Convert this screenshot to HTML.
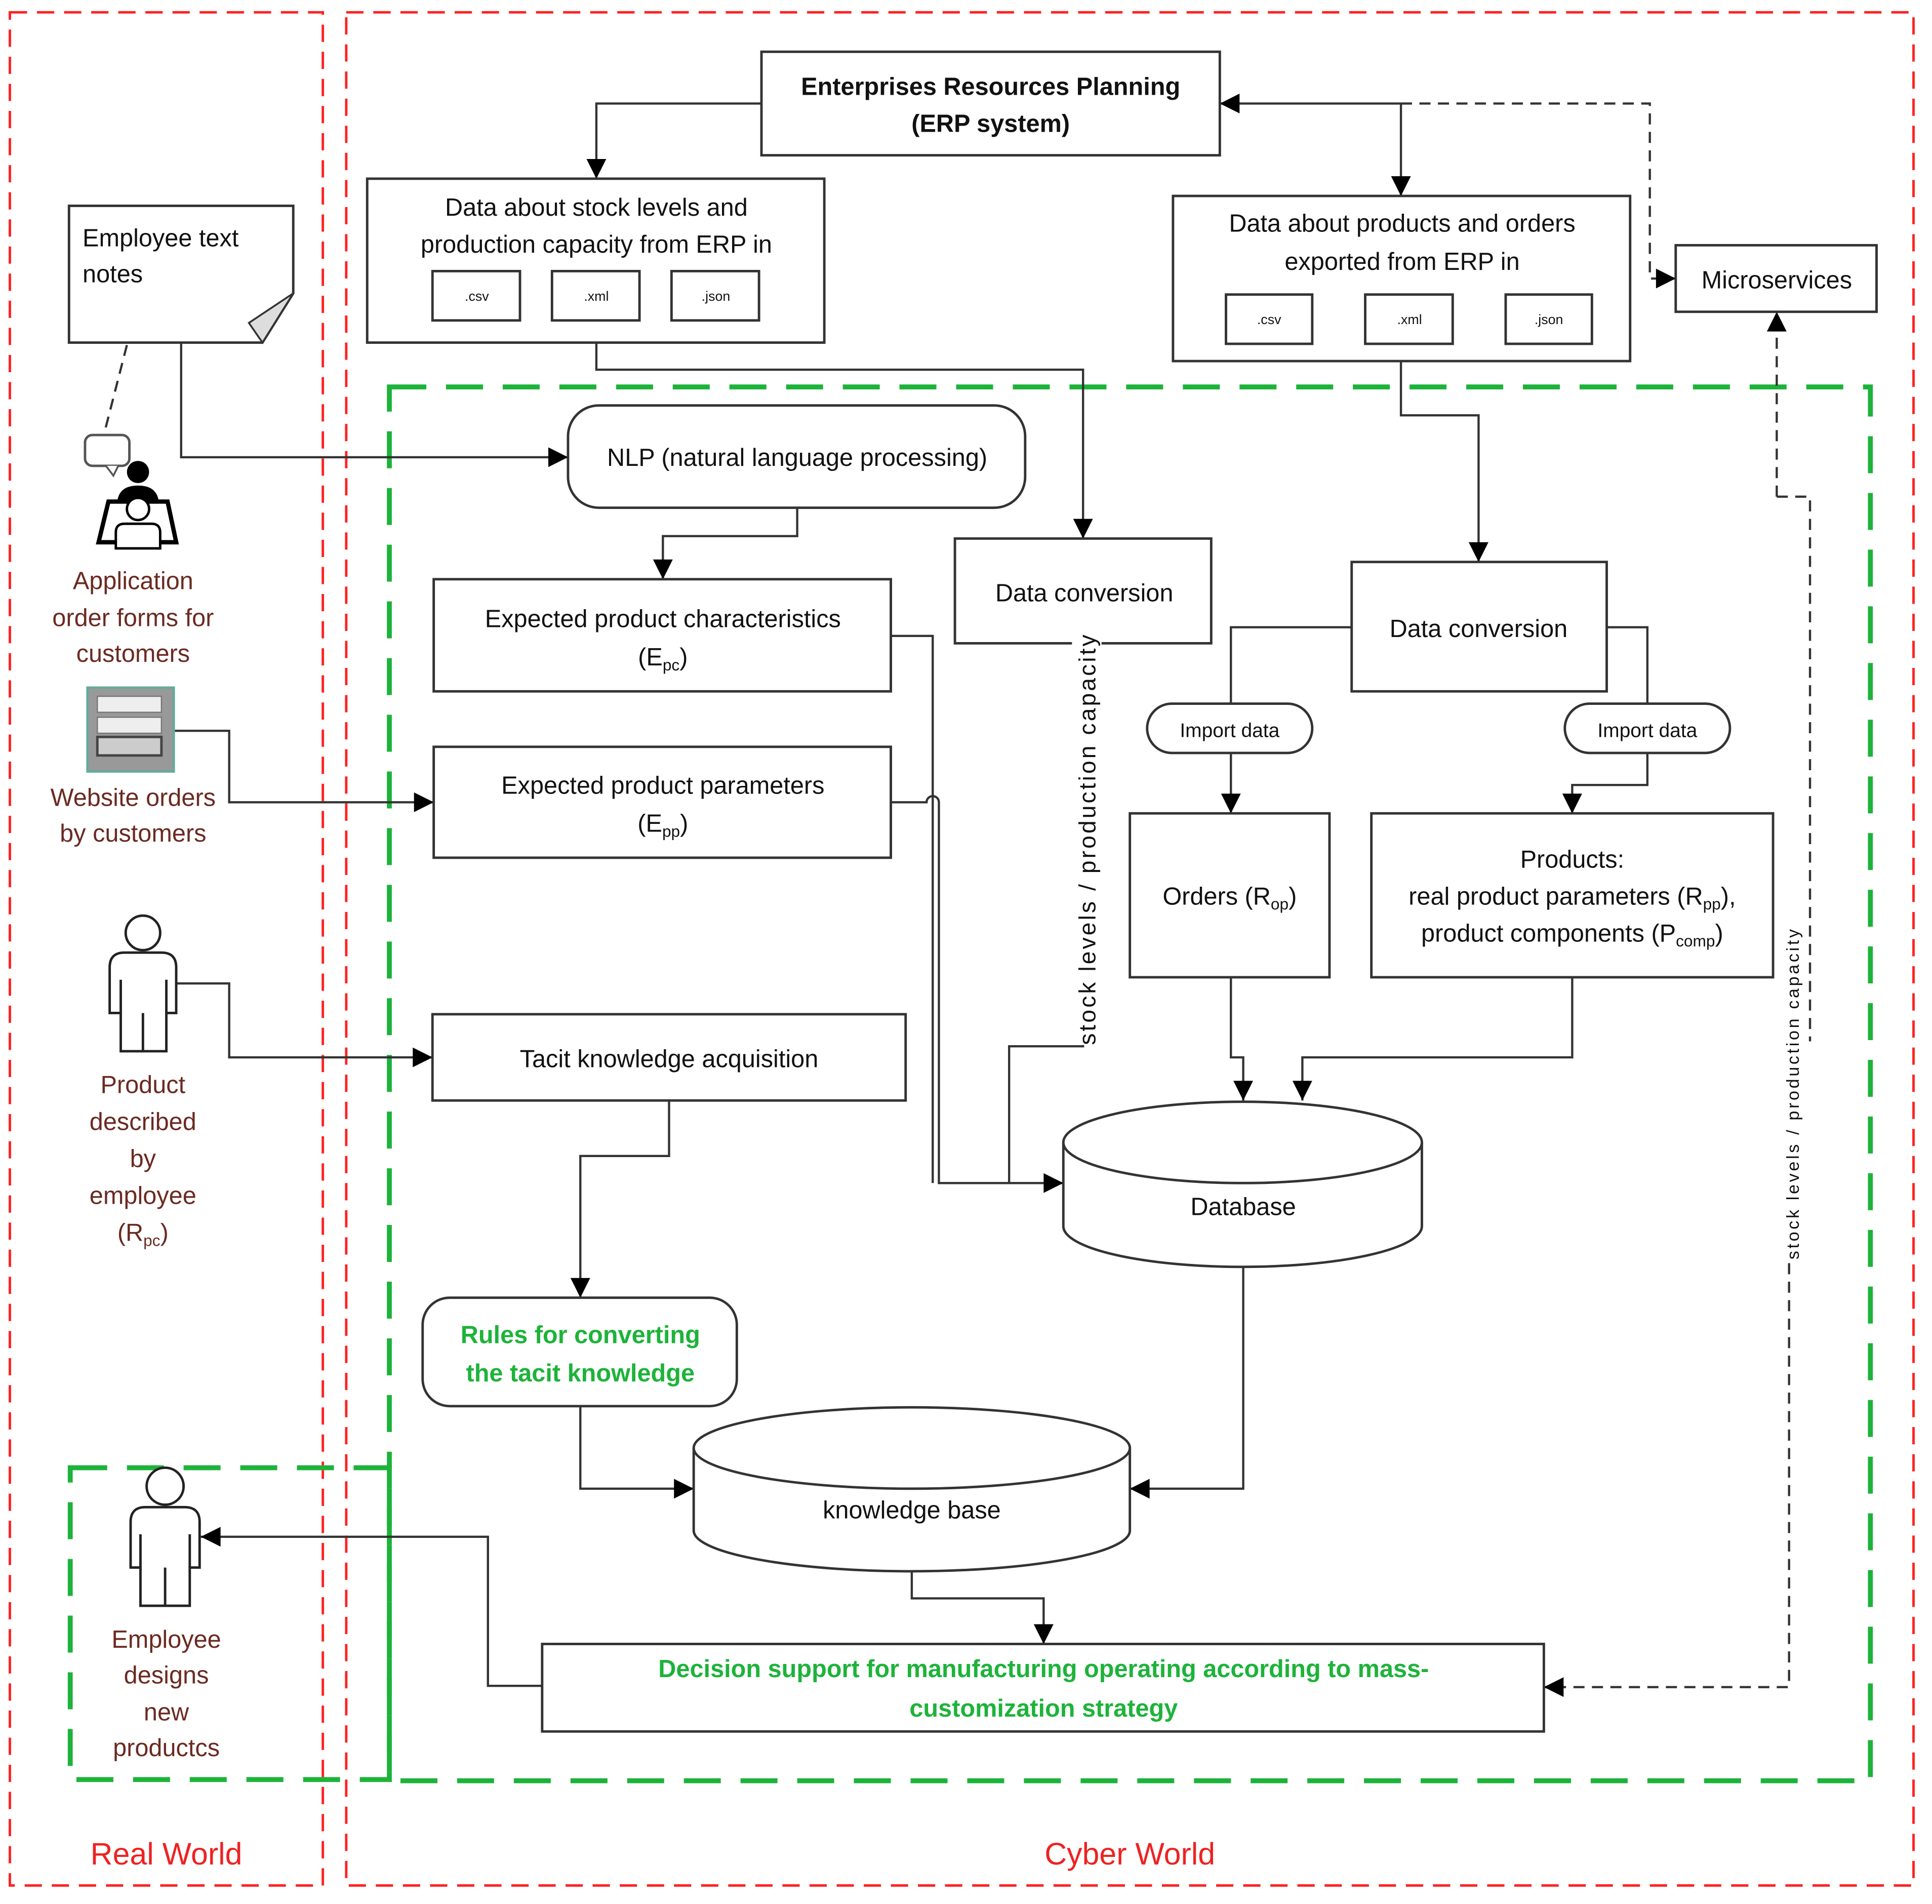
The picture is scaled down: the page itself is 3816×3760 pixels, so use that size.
<!DOCTYPE html>
<html><head><meta charset="utf-8"><style>
html,body{margin:0;padding:0;background:#fff}
svg{display:block}
text{font-family:"Liberation Sans",sans-serif;fill:#111}
.b{fill:#fff;stroke:#333;stroke-width:2}
.l{fill:none;stroke:#333;stroke-width:1.8}
.d{fill:none;stroke:#333;stroke-width:1.8;stroke-dasharray:9,6}
.t{font-size:20px;text-anchor:middle}
.s{font-size:11px;text-anchor:middle}
.lab{font-size:20px;text-anchor:middle;fill:#6b2a22}
.g{font-size:20px;text-anchor:middle;fill:#1db33a;font-weight:bold}
</style></head><body>
<svg width="3816" height="3760" viewBox="0 0 1568 1545" xmlns="http://www.w3.org/2000/svg">
<defs><marker id="a" viewBox="0 0 10 10" refX="10" refY="5" markerWidth="9" markerHeight="9" markerUnits="userSpaceOnUse" orient="auto"><path d="M0,0L10,5L0,10z" fill="#000"/></marker>
<marker id="A" viewBox="0 0 10 10" refX="10" refY="5" markerWidth="18" markerHeight="16" markerUnits="userSpaceOnUse" orient="auto"><path d="M0,0L10,5L0,10z" fill="#000"/></marker></defs>
<rect x="8" y="10" width="254" height="1520" fill="none" stroke="#f22" stroke-width="2" stroke-dasharray="14,8"/>
<rect x="281" y="10" width="1272" height="1520" fill="none" stroke="#f22" stroke-width="2" stroke-dasharray="14,8"/>
<text x="135" y="1513" style="font-size:25px;text-anchor:middle;fill:#e22">Real World</text>
<text x="917" y="1513" style="font-size:25px;text-anchor:middle;fill:#e22">Cyber World</text>
<rect x="316" y="314" width="1202" height="1131" fill="none" stroke="#1db33a" stroke-width="4" stroke-dasharray="30,16"/>
<rect x="57" y="1191" width="259" height="253" fill="none" stroke="#1db33a" stroke-width="4" stroke-dasharray="30,16"/>

<path class="l" d="M618,84H484V145" marker-end="url(#A)"/>
<path class="l" d="M1137,84H990" marker-end="url(#A)"/>
<path class="l" d="M1137,84V159" marker-end="url(#A)"/>
<path class="d" d="M1137,84H1339V226H1360" marker-end="url(#A)"/>
<path class="l" d="M484,278V300H879V437" marker-end="url(#A)"/>
<path class="l" d="M1137,293V337H1200V456" marker-end="url(#A)"/>
<path class="l" d="M147,278V371H461" marker-end="url(#A)"/>
<path class="d" d="M103,280L85,350"/>
<path class="l" d="M647,412V435H538V470" marker-end="url(#A)"/>
<path class="l" d="M723,516H757V960"/>
<path class="l" d="M723,651H752A5,5 0 0 1 762,651V960H863" marker-end="url(#A)"/>
<path class="l" d="M879,522V849H819V960"/>
<path class="l" d="M141,593H186V651H352" marker-end="url(#A)"/>
<path class="l" d="M141,798H186V858H351" marker-end="url(#A)"/>
<path class="l" d="M1097,509H999V660" marker-end="url(#A)"/>
<path class="l" d="M1304,509H1337V637H1276V660" marker-end="url(#A)"/>
<path class="l" d="M999,793V858H1009V893" marker-end="url(#A)"/>
<path class="l" d="M1276,793V858H1057V893" marker-end="url(#A)"/>
<path class="l" d="M543,893V938H471V1053" marker-end="url(#A)"/>
<path class="l" d="M471,1141V1208H563" marker-end="url(#A)"/>
<path class="l" d="M1009,1028V1208H917" marker-end="url(#A)"/>
<path class="l" d="M740,1275V1297H847V1334" marker-end="url(#A)"/>
<path class="l" d="M440,1368H396V1247H163" marker-end="url(#A)"/>
<path class="d" d="M1442,403V253" marker-end="url(#A)"/>
<path class="d" d="M1442,403H1469V845"/>
<path class="d" d="M1452,1025V1369H1253" marker-end="url(#A)"/>

<rect class="b" x="618" y="42" width="372" height="84"/>
<text class="t" x="804" y="77" font-weight="bold">Enterprises Resources Planning</text>
<text class="t" x="804" y="107" font-weight="bold">(ERP system)</text>

<rect class="b" x="298" y="145" width="371" height="133"/>
<text class="t" x="484" y="175">Data about stock levels and</text>
<text class="t" x="484" y="205">production capacity from ERP in</text>
<rect class="b" x="351" y="220" width="71" height="40"/><text class="s" x="387" y="244">.csv</text>
<rect class="b" x="448" y="220" width="71" height="40"/><text class="s" x="484" y="244">.xml</text>
<rect class="b" x="545" y="220" width="71" height="40"/><text class="s" x="581" y="244">.json</text>

<rect class="b" x="952" y="159" width="371" height="134"/>
<text class="t" x="1138" y="188">Data about products and orders</text>
<text class="t" x="1138" y="219">exported from ERP in</text>
<rect class="b" x="995" y="239" width="70" height="40"/><text class="s" x="1030" y="263">.csv</text>
<rect class="b" x="1108" y="239" width="71" height="40"/><text class="s" x="1144" y="263">.xml</text>
<rect class="b" x="1222" y="239" width="70" height="40"/><text class="s" x="1257" y="263">.json</text>

<rect class="b" x="1360" y="199" width="163" height="54"/>
<text class="t" x="1442" y="234">Microservices</text>

<path class="b" d="M56,167H238V238L213,278H56Z"/>
<path d="M238,238L202,262L213,278Z" fill="#ddd" stroke="#333" stroke-width="1.5"/>
<text x="67" y="200" style="font-size:20px">Employee text</text>
<text x="67" y="229" style="font-size:20px">notes</text>

<rect class="b" x="461" y="329" width="371" height="83" rx="25"/>
<text class="t" x="647" y="378">NLP (natural language processing)</text>

<rect class="b" x="352" y="470" width="371" height="91"/>
<text class="t" x="538" y="509">Expected product characteristics</text>
<text class="t" x="538" y="540">(E<tspan font-size="13" dy="4">pc</tspan><tspan dy="-4">)</tspan></text>
<rect class="b" x="352" y="606" width="371" height="90"/>
<text class="t" x="538" y="644">Expected product parameters</text>
<text class="t" x="538" y="675">(E<tspan font-size="13" dy="4">pp</tspan><tspan dy="-4">)</tspan></text>

<rect class="b" x="775" y="437" width="208" height="85"/>
<text class="t" x="880" y="488">Data conversion</text>
<rect class="b" x="1097" y="456" width="207" height="105"/>
<text class="t" x="1200" y="517">Data conversion</text>

<rect class="b" x="931" y="571" width="134" height="40" rx="20"/>
<text x="998" y="598" style="font-size:16px;text-anchor:middle">Import data</text>
<rect class="b" x="1270" y="571" width="134" height="40" rx="20"/>
<text x="1337" y="598" style="font-size:16px;text-anchor:middle">Import data</text>

<rect class="b" x="917" y="660" width="162" height="133"/>
<text class="t" x="998" y="734">Orders (R<tspan font-size="13" dy="4">op</tspan><tspan dy="-4">)</tspan></text>
<rect class="b" x="1113" y="660" width="326" height="133"/>
<text class="t" x="1276" y="704">Products:</text>
<text class="t" x="1276" y="734">real product parameters (R<tspan font-size="13" dy="4">pp</tspan><tspan dy="-4">),</tspan></text>
<text class="t" x="1276" y="764">product components (P<tspan font-size="13" dy="4">comp</tspan><tspan dy="-4">)</tspan></text>

<rect class="b" x="351" y="823" width="384" height="70"/>
<text class="t" x="543" y="866">Tacit knowledge acquisition</text>

<path class="b" d="M863,927V995A145.5,33 0 0 0 1154,995V927"/>
<ellipse class="b" cx="1008.5" cy="927" rx="145.5" ry="33"/>
<text class="t" x="1009" y="986">Database</text>

<rect class="b" x="343" y="1053" width="255" height="88" rx="22"/>
<text class="g" x="471" y="1090">Rules for converting</text>
<text class="g" x="471" y="1121">the tacit knowledge</text>

<path class="b" d="M563,1175V1242A177,33 0 0 0 917,1242V1175"/>
<ellipse class="b" cx="740" cy="1175" rx="177" ry="33"/>
<text class="t" x="740" y="1232">knowledge base</text>

<rect class="b" x="440" y="1334" width="813" height="71"/>
<text class="g" x="847" y="1361">Decision support for manufacturing operating according to mass-</text>
<text class="g" x="847" y="1393">customization strategy</text>

<rect x="870" y="515" width="24" height="333" fill="#fff"/>
<text transform="translate(889,848) rotate(-90)" style="font-size:19px" textLength="333" lengthAdjust="spacing">stock levels / production capacity</text>
<rect x="1444" y="752" width="22" height="272" fill="#fff"/>
<text transform="translate(1460,1022) rotate(-90)" style="font-size:14px" textLength="268" lengthAdjust="spacing">stock levels / production capacity</text>

<rect x="69" y="353" width="36" height="25" rx="6" fill="#fff" stroke="#555" stroke-width="2"/>
<path d="M86,378L92,386L96,378" fill="#fff" stroke="#555" stroke-width="1.5"/>
<circle cx="112" cy="383" r="9" fill="#000"/>
<path d="M95,410Q95,394 112,394Q129,394 129,410Z" fill="#000"/>
<path d="M88,407H136L143,440H80Z" fill="#fff" stroke="#000" stroke-width="3.5"/>
<circle cx="112" cy="413" r="9" fill="#fff" stroke="#000" stroke-width="2"/>
<path d="M94,445V432Q94,425 101,425H123Q130,425 130,432V445Z" fill="#fff" stroke="#000" stroke-width="2"/>
<text class="lab" x="108" y="478">Application</text>
<text class="lab" x="108" y="508">order forms for</text>
<text class="lab" x="108" y="537">customers</text>

<rect x="71" y="558" width="70" height="68" fill="#999" stroke="#6a9" stroke-width="2"/>
<rect x="79" y="565" width="52" height="13" fill="#eee" stroke="#777"/>
<rect x="79" y="582" width="52" height="13" fill="#eee" stroke="#777"/>
<rect x="79" y="598" width="52" height="15" fill="#ccc" stroke="#444" stroke-width="2"/>
<text class="lab" x="108" y="654">Website orders</text>
<text class="lab" x="108" y="683">by customers</text>

<g fill="#fff" stroke="#222" stroke-width="2">
<circle cx="116" cy="757" r="14"/>
<path d="M89,822V785Q89,773 101,773H131Q143,773 143,785V822H135V853H98V822Z"/>
<path d="M98,822V795M135,822V795M116,853V822" fill="none"/>
<circle cx="134" cy="1206" r="15"/>
<path d="M106,1272V1235Q106,1223 118,1223H150Q162,1223 162,1235V1272H154V1303H114V1272Z"/>
<path d="M114,1272V1245M154,1272V1245M134,1303V1272" fill="none"/>
</g>
<text class="lab" x="116" y="887">Product</text>
<text class="lab" x="116" y="917">described</text>
<text class="lab" x="116" y="947">by</text>
<text class="lab" x="116" y="977">employee</text>
<text class="lab" x="116" y="1007">(R<tspan font-size="13" dy="4">pc</tspan><tspan dy="-4">)</tspan></text>
<text class="lab" x="135" y="1337">Employee</text>
<text class="lab" x="135" y="1366">designs</text>
<text class="lab" x="135" y="1396">new</text>
<text class="lab" x="135" y="1425">productcs</text>
</svg>
</body></html>
